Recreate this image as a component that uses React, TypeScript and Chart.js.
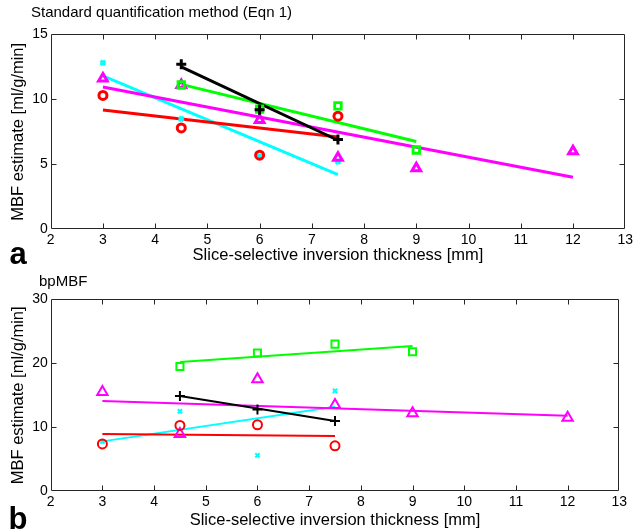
import React, { useEffect, useRef } from "react";
import { Chart, registerables } from "chart.js";

Chart.register(...registerables);

const FONT = "Arial, 'Liberation Sans', Helvetica, sans-serif";

// ---------- shared ----------
const X_TICKS = [2, 3, 4, 5, 6, 7, 8, 9, 10, 11, 12, 13];
const X_TITLE = "Slice-selective inversion thickness [mm]";
const Y_TITLE = "MBF estimate [ml/g/min]";

// ---------- panel a : Standard quantification method ----------
const A_TITLE = "Standard quantification method (Eqn 1)";
const A_LETTER = "a";
const A_Y_TICKS = [0, 5, 10, 15];

const A_RED_X = [3, 4.5, 6, 7.5];
const A_RED_Y = [10.3, 7.8, 5.7, 8.7];
const A_RED_FIT_X = [3, 7.5];
const A_RED_FIT_Y = [9.18, 7.1];

const A_CYAN_X = [3, 4.5, 6, 7.5];
const A_CYAN_Y = [12.8, 8.5, 5.6, 5.2];
const A_CYAN_FIT_X = [3, 7.5];
const A_CYAN_FIT_Y = [11.8, 4.2];

const A_MAG_X = [3, 4.5, 6, 7.5, 9, 12];
const A_MAG_Y = [11.6, 11.1, 8.4, 5.5, 4.7, 6.0];
const A_MAG_FIT_X = [3, 12];
const A_MAG_FIT_Y = [10.95, 4.0];

const A_GREEN_X = [4.5, 6, 7.5, 9];
const A_GREEN_Y = [11.1, 9.25, 9.5, 6.1];
const A_GREEN_FIT_X = [4.5, 9];
const A_GREEN_FIT_Y = [11.15, 6.75];

const A_BLACK_X = [4.5, 6, 7.5];
const A_BLACK_Y = [12.7, 9.2, 6.9];
const A_BLACK_FIT_X = [4.5, 7.5];
const A_BLACK_FIT_Y = [12.5, 6.85];

// ---------- panel b : bpMBF ----------
const B_TITLE = "bpMBF";
const B_LETTER = "b";
const B_Y_TICKS = [0, 10, 20, 30];

const B_RED_X = [3, 4.5, 6, 7.5];
const B_RED_Y = [7.4, 10.3, 10.4, 7.1];
const B_RED_FIT_X = [3, 7.5];
const B_RED_FIT_Y = [8.95, 8.65];

const B_CYAN_X = [3, 4.5, 6, 7.5];
const B_CYAN_Y = [7.75, 12.5, 5.6, 15.7];
const B_CYAN_FIT_X = [3, 7.5];
const B_CYAN_FIT_Y = [7.8, 13.2];

const B_MAG_X = [3, 4.5, 6, 7.5, 9, 12];
const B_MAG_Y = [15.5, 8.95, 17.5, 13.5, 12.2, 11.5];
const B_MAG_FIT_X = [3, 12];
const B_MAG_FIT_Y = [14.1, 11.8];

const B_GREEN_X = [4.5, 6, 7.5, 9];
const B_GREEN_Y = [19.5, 21.6, 23.0, 21.8];
const B_GREEN_FIT_X = [4.5, 9];
const B_GREEN_FIT_Y = [20.2, 22.7];

const B_BLACK_X = [4.5, 6, 7.5];
const B_BLACK_Y = [14.9, 12.8, 11.0];
const B_BLACK_FIT_X = [4.5, 7.5];
const B_BLACK_FIT_Y = [14.9, 11.0];

// ---------- styles ----------
const RED = "#ff0000";
const CYAN = "#00ffff";
const MAGENTA = "#ff00ff";
const GREEN = "#00ff00";
const BLACK = "#000000";

type Series = {
  color: string;
  style: string;
  radius: number;
  width: number;
  xs: number[];
  ys: number[];
  fx: number[];
  fy: number[];
};

const pts = (xs: number[], ys: number[]) => xs.map((x, i) => ({ x, y: ys[i] }));

function buildDatasets(series: Series[], lineWidth: number) {
  const markers = series.map((s) => ({
    type: "scatter" as const,
    data: pts(s.xs, s.ys),
    showLine: false,
    pointStyle: s.style,
    pointRadius: s.radius,
    pointBorderWidth: s.width,
    borderColor: s.color,
    backgroundColor: "rgba(0,0,0,0)",
    pointBackgroundColor: "rgba(0,0,0,0)",
    pointBorderColor: s.color,
  }));
  const lines = series.map((s) => ({
    type: "line" as const,
    data: pts(s.fx, s.fy),
    showLine: true,
    pointRadius: 0,
    borderWidth: lineWidth,
    borderColor: s.color,
    backgroundColor: s.color,
    fill: false,
    tension: 0,
  }));
  // first dataset is drawn on top
  return [...markers, ...lines];
}

const boxPlugin = {
  id: "matlabBox",
  afterDatasetsDraw(chart: any, _args: any, opts: any) {
    const { ctx, chartArea: a, scales } = chart;
    const xs = scales.x;
    const ys = scales.y;
    const L = Math.round(a.left) + 0.5;
    const R = Math.round(a.right) - 0.5;
    const T = Math.round(a.top) + 0.5;
    const B = Math.round(a.bottom) - 0.5;
    const tl = 5;
    ctx.save();
    ctx.strokeStyle = "#262626";
    ctx.lineWidth = 1;
    ctx.beginPath();
    ctx.rect(L, T, R - L, B - T);
    for (const v of opts.xTicks) {
      const p = Math.round(xs.getPixelForValue(v)) + 0.5;
      if (p <= L + 1 || p >= R - 1) continue;
      ctx.moveTo(p, B);
      ctx.lineTo(p, B - tl);
      ctx.moveTo(p, T);
      ctx.lineTo(p, T + tl);
    }
    for (const v of opts.yTicks) {
      const p = Math.round(ys.getPixelForValue(v)) + 0.5;
      if (p <= T + 1 || p >= B - 1) continue;
      ctx.moveTo(L, p);
      ctx.lineTo(L + tl, p);
      ctx.moveTo(R, p);
      ctx.lineTo(R - tl, p);
    }
    ctx.stroke();
    ctx.restore();
  },
  afterDraw(chart: any, _args: any, opts: any) {
    const { ctx } = chart;
    ctx.save();
    ctx.fillStyle = "#000";
    ctx.textBaseline = "middle";
    ctx.textAlign = "left";
    ctx.font = `15px ${FONT}`;
    ctx.fillText(opts.title, opts.titleX, opts.titleY);
    ctx.font = `bold 31px ${FONT}`;
    ctx.textAlign = "center";
    ctx.fillText(opts.letter, opts.letterX, opts.letterY);
    ctx.restore();
  },
};

type PanelProps = {
  top: number;
  height: number;
  areaTop: number;
  areaBottom: number;
  areaLeft: number;
  areaRight: number;
  yMax: number;
  yTicks: number[];
  title: string;
  titleX: number;
  titleY: number;
  letter: string;
  letterY: number;
  series: Series[];
  lineWidth: number;
};

function Panel(p: PanelProps) {
  const ref = useRef<HTMLCanvasElement | null>(null);
  useEffect(() => {
    if (!ref.current) return;
    const W = 635;
    const chart = new Chart(ref.current, {
      type: "scatter",
      data: { datasets: buildDatasets(p.series, p.lineWidth) as any },
      plugins: [boxPlugin as any],
      options: {
        animation: false,
        responsive: false,
        devicePixelRatio: 1,
        layout: {
          padding: { top: p.areaTop, right: W - p.areaRight, bottom: 0, left: 0 },
        },
        plugins: {
          legend: { display: false },
          tooltip: { enabled: false },
          title: { display: false },
          matlabBox: {
            xTicks: X_TICKS,
            yTicks: p.yTicks,
            title: p.title,
            titleX: p.titleX,
            titleY: p.titleY,
            letter: p.letter,
            letterX: 18,
            letterY: p.letterY,
          },
        } as any,
        scales: {
          x: {
            type: "linear",
            min: 2,
            max: 13,
            afterBuildTicks: (s: any) => {
              s.ticks = X_TICKS.map((v) => ({ value: v }));
            },
            afterFit: (s: any) => {
              s.height = p.height - p.areaBottom;
            },
            grid: { display: false, drawTicks: false },
            border: { display: false },
            ticks: {
              color: "#000",
              font: { family: FONT, size: 14 },
              padding: 2,
              maxRotation: 0,
              autoSkip: false,
            },
            title: {
              display: true,
              text: X_TITLE,
              color: "#000",
              font: { family: FONT, size: 16.5, lineHeight: 1.1 },
              padding: { top: 0, bottom: 0 },
            },
          },
          y: {
            type: "linear",
            min: 0,
            max: p.yMax,
            afterBuildTicks: (s: any) => {
              s.ticks = p.yTicks.map((v) => ({ value: v }));
            },
            afterFit: (s: any) => {
              s.width = p.areaLeft;
            },
            grid: { display: false, drawTicks: false },
            border: { display: false },
            ticks: {
              color: "#000",
              font: { family: FONT, size: 14 },
              padding: 3,
              autoSkip: false,
            },
            title: {
              display: true,
              text: Y_TITLE,
              color: "#000",
              font: { family: FONT, size: 16.5, lineHeight: 1.1 },
              padding: { top: 9, bottom: 0 },
            },
          },
        },
      },
    });
    return () => chart.destroy();
  }, []);
  return (
    <canvas
      ref={ref}
      width={635}
      height={p.height}
      style={{ position: "absolute", left: 0, top: p.top, width: 635, height: p.height }}
    />
  );
}

const A_SERIES: Series[] = [
  { color: BLACK, style: "cross", radius: 5, width: 3, xs: A_BLACK_X, ys: A_BLACK_Y, fx: A_BLACK_FIT_X, fy: A_BLACK_FIT_Y },
  { color: GREEN, style: "rect", radius: 4.6, width: 2.8, xs: A_GREEN_X, ys: A_GREEN_Y, fx: A_GREEN_FIT_X, fy: A_GREEN_FIT_Y },
  { color: RED, style: "circle", radius: 4, width: 3, xs: A_RED_X, ys: A_RED_Y, fx: A_RED_FIT_X, fy: A_RED_FIT_Y },
  { color: MAGENTA, style: "triangle", radius: 5, width: 3, xs: A_MAG_X, ys: A_MAG_Y, fx: A_MAG_FIT_X, fy: A_MAG_FIT_Y },
  { color: CYAN, style: "crossRot", radius: 3.2, width: 3.2, xs: A_CYAN_X, ys: A_CYAN_Y, fx: A_CYAN_FIT_X, fy: A_CYAN_FIT_Y },
];

const B_SERIES: Series[] = [
  { color: BLACK, style: "cross", radius: 5, width: 2, xs: B_BLACK_X, ys: B_BLACK_Y, fx: B_BLACK_FIT_X, fy: B_BLACK_FIT_Y },
  { color: GREEN, style: "rect", radius: 5, width: 2, xs: B_GREEN_X, ys: B_GREEN_Y, fx: B_GREEN_FIT_X, fy: B_GREEN_FIT_Y },
  { color: RED, style: "circle", radius: 4.5, width: 2, xs: B_RED_X, ys: B_RED_Y, fx: B_RED_FIT_X, fy: B_RED_FIT_Y },
  { color: MAGENTA, style: "triangle", radius: 6, width: 2, xs: B_MAG_X, ys: B_MAG_Y, fx: B_MAG_FIT_X, fy: B_MAG_FIT_Y },
  { color: CYAN, style: "crossRot", radius: 3, width: 2.2, xs: B_CYAN_X, ys: B_CYAN_Y, fx: B_CYAN_FIT_X, fy: B_CYAN_FIT_Y },
];

export default function App() {
  return (
    <div style={{ position: "absolute", left: 0, top: 0, width: 635, height: 532, background: "#fff" }}>
      <Panel
        top={0}
        height={265}
        areaTop={34.3}
        areaBottom={229.3}
        areaLeft={50.7}
        areaRight={626.7}
        yMax={15}
        yTicks={A_Y_TICKS}
        title={A_TITLE}
        titleX={31}
        titleY={13}
        letter={A_LETTER}
        letterY={255}
        series={A_SERIES}
        lineWidth={3}
      />
      <Panel
        top={265}
        height={265}
        areaTop={34.3}
        areaBottom={226.3}
        areaLeft={50.7}
        areaRight={619.3}
        yMax={30}
        yTicks={B_Y_TICKS}
        title={B_TITLE}
        titleX={39}
        titleY={17}
        letter={B_LETTER}
        letterY={255}
        series={B_SERIES}
        lineWidth={2}
      />
    </div>
  );
}
